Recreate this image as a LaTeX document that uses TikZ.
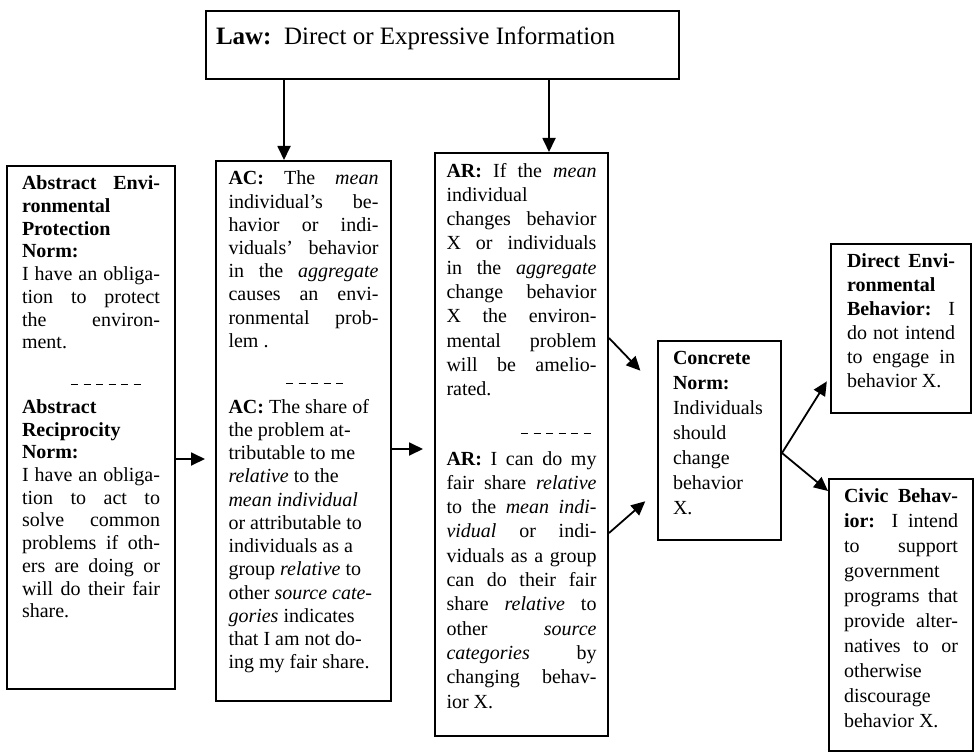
\documentclass[tikz,border=0pt]{standalone}
\usepackage{fontspec}
\setmainfont{Liberation Serif}
\usepackage{tikz}
\usetikzlibrary{arrows.meta}

\newcommand{\dseg}{\rule[-1pt]{3.5pt}{0.6pt}\hspace{2.75pt}}
\newcommand{\dashrow}[2]{\par\vspace{0.5\baselineskip}\noindent\hspace*{#1}\foreach \i in {1,...,#2}{\dseg}\par\vspace{0.35\baselineskip}}
\newcommand{\cell}[3]{\parbox[t][#2][t]{#1}{\tolerance=10000\hbadness=10000\vbadness=10000 #3}}

\begin{document}
\begin{tikzpicture}[x=0.5pt, y=-0.5pt,
    box/.style={draw, line width=1pt, anchor=north west, inner ysep=5pt},
    arr/.style={line width=0.9pt, -{Triangle[length=7pt,width=6.5pt]}}]
  \useasboundingbox (0,0) rectangle (977,754);

  % law on top
  \node[box, inner xsep=5pt, inner ysep=8pt, font=\fontsize{12.5}{14}\selectfont] (law) at (205,10)
    {\cell{226.5pt}{18pt}{\textbf{Law:}\ \ Direct or Expressive Information}};

  % the three columns
  \node[box, inner xsep=7.5pt, font=\fontsize{10}{11.35}\selectfont] (abs) at (6,165)
    {\cell{69pt}{251.5pt}{\textbf{Abstract Envi-\linebreak ronmental\linebreak Protection\linebreak Norm:}\linebreak
     I have an obliga-\linebreak tion to protect\linebreak the environ-\linebreak ment.
     \dashrow{24.5pt}{6}
     \textbf{Abstract\linebreak Reciprocity\linebreak Norm:}\linebreak I have an obliga-\linebreak
     tion to act to\linebreak solve common\linebreak problems if oth-\linebreak ers are doing or\linebreak
     will do their fair\linebreak share.}};
  \node[box, inner xsep=6.25pt, font=\fontsize{10}{11.6}\selectfont] (ac) at (215,160)
    {\cell{75pt}{260pt}{\textbf{AC:} The \textit{mean}\linebreak individual's be-\linebreak havior or indi-\linebreak
     viduals' behavior\linebreak in the \textit{aggregate}\linebreak causes an envi-\linebreak ronmental prob-\linebreak lem .
     \dashrow{28.75pt}{5}
     \textbf{AC:} The share of\\ the problem at-\\ tributable to me\\ \textit{relative} to the\\
     \textit{mean individual}\\ or attributable to\\ individuals as a\\ group \textit{relative} to\\
     other \textit{source cate-}\\ \textit{gories} indicates\\ that I am not do-\\ ing my fair share.}};
  \node[box, inner xsep=5.75pt, font=\fontsize{10}{12.15}\selectfont] (ar) at (434,152)
    {\cell{75pt}{281.5pt}{\textbf{AR:} If the \textit{mean}\linebreak individual\linebreak changes behavior\linebreak
     X or individuals\linebreak in the \textit{aggregate}\linebreak change behavior\linebreak X the environ-\linebreak
     mental problem\linebreak will be amelio-\linebreak rated.
     \dashrow{37.25pt}{6}
     \textbf{AR:} I can do my\linebreak fair share \textit{relative}\linebreak to the \textit{mean indi-}\linebreak
     \textit{vidual} or indi-\linebreak viduals as a group\linebreak can do their fair\linebreak
     share \textit{relative} to\linebreak other \textit{source}\linebreak \textit{categories} by\linebreak
     changing behav-\linebreak ior X.}};

  % concrete norm and the two behaviors
  \node[box, inner xsep=7.5pt, font=\fontsize{10}{12.5}\selectfont] (conc) at (657,340)
    {\cell{46.5pt}{89.5pt}{\textbf{Concrete\\ Norm:}\\ Individuals\\ should\\ change\\ behavior\\ X.}};
  \node[box, inner xsep=8pt, font=\fontsize{10}{12}\selectfont] (direct) at (830,243)
    {\cell{54pt}{74.5pt}{\textbf{Direct Envi-\linebreak ronmental\linebreak Behavior:} I\linebreak
     do not intend\linebreak to engage in\linebreak behavior X.}};
  \node[box, inner xsep=7.5pt, font=\fontsize{10}{12.5}\selectfont] (civic) at (828,478)
    {\cell{57pt}{126pt}{\textbf{Civic Behav-\linebreak ior:} I intend\linebreak to support\linebreak
     government\linebreak programs that\linebreak provide alter-\linebreak natives to or\linebreak
     otherwise\linebreak discourage\linebreak behavior X.}};

  % arrows
  \path ([xshift=-9.75pt]ac.north) coordinate (acin);
  \path ([xshift=13.75pt]ar.north) coordinate (arin);
  \draw[arr] (law.south -| acin) -- (acin);
  \draw[arr] (law.south -| arin) -- (arin);
  \path ([yshift=-15.75pt]abs.east) coordinate (absout);
  \draw[arr, shorten >=5pt] (absout) -- (absout -| ac.west);
  \path ([yshift=-9pt]ac.east) coordinate (acout);
  \draw[arr, shorten >=5.5pt] (acout) -- (acout -| ar.west);
  \draw[arr, shorten >=12pt] ([yshift=53.25pt]ar.east) -- ([yshift=26.25pt]conc.west);
  \draw[arr, shorten >=7.8pt] ([yshift=-44.25pt]ar.east) -- ([yshift=-25.25pt]conc.west);
  \path ([yshift=-6.25pt]conc.east) coordinate (concout);
  \draw[arr, shorten >=3pt] (concout) -- ([yshift=-23.9pt]direct.west);
  \draw[arr] (concout) -- ([yshift=62pt]civic.west);
\end{tikzpicture}
\end{document}
